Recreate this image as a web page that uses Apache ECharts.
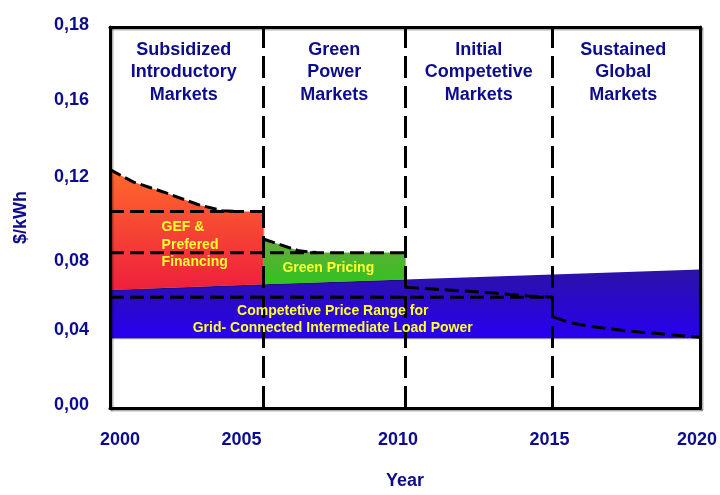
<!DOCTYPE html>
<html>
<head>
<meta charset="utf-8">
<script src="https://cdn.jsdelivr.net/npm/echarts@6/dist/echarts.min.js"></script>
<style>
  html, body { margin: 0; padding: 0; background: #ffffff; overflow: hidden; }
  #chart { width: 720px; height: 495px; }
</style>
</head>
<body>
<div id="chart"></div>
<script>
// Axis ticks
const yearTicks = [2000, 2005, 2010, 2015, 2020];
const priceTickLabels = ['0,00', '0,04', '0,08', '0,12', '0,16', '0,18'];

// Market phase boundaries (years) and phase titles
const phaseBounds = [2005.2, 2010, 2015];
const phaseTitles = [
  'Subsidized\nIntroductory\nMarkets',
  'Green\nPower\nMarkets',
  'Initial\nCompetetive\nMarkets',
  'Sustained\nGlobal\nMarkets'
];
const phaseTitleYears = [2002.5, 2007.6, 2012.5, 2017.4];

// Competitive price range for grid-connected intermediate load power ($/kWh)
const gridRangeLow = [[2000, 0.0366], [2020, 0.0366]];
const gridRangeHigh = [[2000, 0.0619], [2005.2, 0.0649], [2010, 0.0675], [2020, 0.0727]];

// GEF & preferred financing price band (upper edge)
const financingTop = [[2000, 0.1251], [2000.8, 0.1186], [2001.9, 0.1129], [2003.0, 0.1067],
                      [2003.8, 0.1036], [2004.3, 0.1031], [2005.2, 0.1031]];
// Green pricing band (upper edge)
const greenPricingTop = [[2005.2, 0.0887], [2006.4, 0.0825], [2007.0, 0.0816], [2010, 0.0816]];

// Dashed price trajectories
const gefLevel = [[2000, 0.1031], [2005.2, 0.1031]];
const preferredLevel = [[2000, 0.0815], [2010, 0.0815]];
const gridLevel = [[2000, 0.0582], [2015, 0.0582]];
const competitiveTrend = [[2010, 0.0634], [2011.2, 0.0622], [2012.9, 0.0605], [2014.2, 0.0588], [2015, 0.0582]];
const sustainedTrend = [[2015, 0.0582], [2015, 0.0479], [2015.6, 0.0448], [2016.3, 0.0428],
                        [2017.4, 0.0407], [2018.5, 0.0392], [2020, 0.0371]];

// Hand-tuned label nudges in pixels (x: +right, y: +down)
const yearLabelNudge = [10, -16, -7, -3, -3];
const priceLabelNudge = [-3, -2, 5, -2, -3, -2];

const NAVY = '#0c0c8c';
const YELLOW = '#ffff33';
const FONT = '"Liberation Sans", Arial, sans-serif';

function vGradient(top, bottom) {
  return { type: 'linear', x: 0, y: 0, x2: 0, y2: 1,
           colorStops: [{ offset: 0, color: top }, { offset: 1, color: bottom }] };
}

// A filled band drawn through the cartesian scales
function bandSeries(name, points, fill, z) {
  return {
    name, type: 'custom', z, silent: true,
    data: [points[0]],
    renderItem: (params, api) => ({
      type: 'polygon',
      shape: { points: points.map(p => api.coord(p)) },
      style: { fill, shadowColor: 'rgba(0,0,0,0.3)', shadowOffsetX: 1, shadowOffsetY: 1 }
    })
  };
}

function dashedSeries(name, points, dash) {
  return {
    name, type: 'line', z: 5, silent: true, symbol: 'none',
    data: points,
    lineStyle: { color: '#000', width: 3, type: dash || [14, 6] }
  };
}

const gridBand = gridRangeLow.concat(gridRangeHigh.slice().reverse());
const financingBand = financingTop.concat([[2005.2, 0.0649], [2000, 0.0619]]);
const greenBand = greenPricingTop.concat([[2010, 0.0675], [2005.2, 0.0649]]);

const annotations = [
  { value: [2001.75, 0.0856], text: 'GEF &\nPrefered\nFinancing', align: 'left', lineHeight: 17.5 },
  { value: [2007.4, 0.0732], text: 'Green Pricing', align: 'center', lineHeight: 17 },
  { value: [2007.55, 0.0466], text: 'Competetive Price Range for\nGrid- Connected Intermediate Load Power', align: 'center', lineHeight: 17 }
];

const tickTextStyle = { color: NAVY, fontFamily: FONT, fontWeight: 'bold', fontSize: 18 };
const yearRich = {}, priceRich = {};
yearLabelNudge.forEach((d, i) => {
  yearRich['n' + i] = Object.assign({}, tickTextStyle, { padding: d >= 0 ? [0, 0, 0, 2 * d] : [0, -2 * d, 0, 0] });
});
priceLabelNudge.forEach((d, i) => {
  priceRich['n' + i] = Object.assign({}, tickTextStyle, { padding: d >= 0 ? [2 * d, 0, 0, 0] : [0, 0, -2 * d, 0] });
});

const frameAxisLine = {
  show: true, onZero: false,
  lineStyle: { color: '#000', width: 3, shadowColor: 'rgba(0,0,0,0.3)', shadowOffsetX: 1.5, shadowOffsetY: 1.5 }
};

const chart = echarts.init(document.getElementById('chart'), null, { renderer: 'canvas', width: 720, height: 495 });
chart.setOption({
  animation: false,
  backgroundColor: '#ffffff',
  grid: { left: 110, right: 20, top: 27, bottom: 80 },
  xAxis: [{
    type: 'value', min: yearTicks[0], max: yearTicks[yearTicks.length - 1], interval: 5, z: 10,
    axisLine: frameAxisLine, axisTick: { show: false }, splitLine: { show: false },
    axisLabel: Object.assign({}, tickTextStyle, {
      margin: 23, rich: yearRich,
      formatter: v => '{n' + yearTicks.indexOf(v) + '|' + v + '}'
    }),
    name: 'Year', nameLocation: 'middle', nameGap: 64,
    nameTextStyle: tickTextStyle
  }, {
    type: 'value', position: 'top', min: yearTicks[0], max: yearTicks[yearTicks.length - 1], z: 10,
    axisLine: frameAxisLine, axisTick: { show: false }, axisLabel: { show: false }, splitLine: { show: false }
  }],
  yAxis: [{
    type: 'value', min: 0, max: 0.2, interval: 0.04, z: 10,
    axisLine: frameAxisLine, axisTick: { show: false }, splitLine: { show: false },
    axisLabel: Object.assign({}, tickTextStyle, {
      margin: 21, rich: priceRich,
      formatter: v => { const i = Math.round(v / 0.04); return '{n' + i + '|' + priceTickLabels[i] + '}'; }
    }),
    name: '$/kWh', nameLocation: 'middle', nameGap: 80,
    nameTextStyle: tickTextStyle
  }, {
    type: 'value', position: 'right', min: 0, max: 0.2, z: 10,
    axisLine: frameAxisLine, axisTick: { show: false }, axisLabel: { show: false }, splitLine: { show: false }
  }],
  series: [
    bandSeries('Competitive price range', gridBand, vGradient('#2c12a6', '#2800f0'), 1),
    bandSeries('GEF & preferred financing', financingBand, vGradient('#ff6a2c', '#ee1f3c'), 2),
    bandSeries('Green pricing', greenBand, vGradient('#6aa83c', '#30c41e'), 2),
    dashedSeries('Financing curve', financingTop.slice(0, 6), [12, 5]),
    dashedSeries('Green pricing curve', greenPricingTop.slice(0, 3), [12, 5]),
    dashedSeries('GEF level', gefLevel),
    dashedSeries('Preferred level', preferredLevel),
    dashedSeries('Grid level', gridLevel),
    dashedSeries('Competitive trend', competitiveTrend),
    dashedSeries('Sustained trend', sustainedTrend),
    {
      name: 'Phase dividers', type: 'line', data: [], z: 6,
      markLine: {
        silent: true, symbol: 'none', label: { show: false },
        lineStyle: { color: '#000', width: 3, type: [22, 8] },
        data: phaseBounds.map(x => ({ xAxis: x }))
      }
    },
    {
      name: 'Phase titles', type: 'scatter', symbolSize: 0, z: 8, silent: true,
      itemStyle: { opacity: 1 },
      data: phaseTitles.map((t, i) => ({ value: [phaseTitleYears[i], 0.1763], text: t })),
      label: {
        show: true, position: 'inside', formatter: p => p.data.text,
        color: NAVY, fontFamily: FONT, fontWeight: 'bold', fontSize: 18, lineHeight: 22.5, align: 'center'
      }
    },
    {
      name: 'Band labels', type: 'scatter', symbolSize: 0, z: 8, silent: true,
      itemStyle: { opacity: 1 },
      data: annotations.map(a => ({
        value: a.value, text: a.text,
        label: { align: a.align, lineHeight: a.lineHeight }
      })),
      label: {
        show: true, position: 'inside', formatter: p => p.data.text,
        color: YELLOW, fontFamily: FONT, fontWeight: 'bold', fontSize: 14
      }
    }
  ]
});
</script>
</body>
</html>
